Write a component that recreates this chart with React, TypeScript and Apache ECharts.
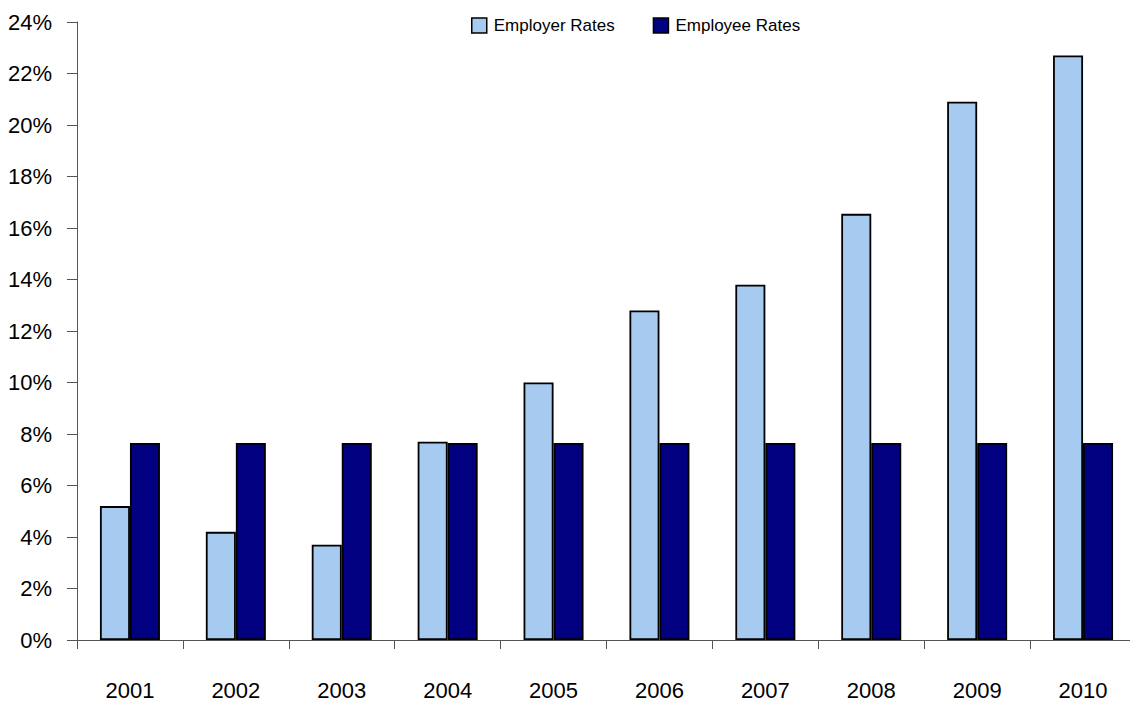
import React, { useEffect, useRef } from "react";
import * as echarts from "echarts";

const years = ["2001", "2002", "2003", "2004", "2005", "2006", "2007", "2008", "2009", "2010"];
const employerRates = [5.2, 4.2, 3.7, 7.7, 10.0, 12.8, 13.8, 16.55, 20.9, 22.7];
const employeeRates = [7.65, 7.65, 7.65, 7.65, 7.65, 7.65, 7.65, 7.65, 7.65, 7.65];
const seriesNames = ["Employer Rates", "Employee Rates"];

const FONT = "'Liberation Sans', Arial, sans-serif";

export default function App() {
  const ref = useRef<HTMLDivElement>(null);
  useEffect(() => {
    if (!ref.current) return;
    const chart = echarts.init(ref.current, null, { renderer: "svg" });
    chart.setOption({
      animation: false,
      backgroundColor: "#ffffff",
      textStyle: { fontFamily: FONT },
      legend: {
        top: 12,
        left: 466,
        itemWidth: 15,
        itemHeight: 15,
        itemGap: 38,
        icon: "rect",
        textStyle: { fontFamily: FONT, fontSize: 17, color: "#000", padding: [0, 0, 0, 2] },
        data: seriesNames.map((n) => ({ name: n, itemStyle: { borderColor: "#000", borderWidth: 1.5 } })),
      },
      grid: { left: 77, top: 22, bottom: 67, width: 1059, containLabel: false, outerBoundsMode: "none" },
      xAxis: {
        type: "category",
        data: years,
        axisLine: { lineStyle: { color: "#555", width: 1 } },
        axisTick: { show: true, length: 9, lineStyle: { color: "#555" } },
        axisLabel: { fontFamily: FONT, fontSize: 22, color: "#000", margin: 39 },
      },
      yAxis: {
        type: "value",
        min: 0,
        max: 24,
        interval: 2,
        splitLine: { show: false },
        axisLine: { show: true, lineStyle: { color: "#555", width: 1 } },
        axisTick: { show: true, inside: false, length: 10, lineStyle: { color: "#555" } },
        axisLabel: { fontFamily: FONT, fontSize: 22, color: "#000", margin: 25, formatter: "{value}%" },
      },
      series: [
        {
          name: seriesNames[0],
          type: "bar",
          data: employerRates,
          barWidth: 30,
          barGap: "0%",
          itemStyle: { color: "#A6CAF0", borderColor: "#000", borderWidth: 1.8 },
        },
        {
          name: seriesNames[1],
          type: "bar",
          data: employeeRates,
          barWidth: 30,
          barGap: "0%",
          itemStyle: { color: "#000080", borderColor: "#000", borderWidth: 1.8 },
        },
      ],
    });
    return () => chart.dispose();
  }, []);
  return <div ref={ref} style={{ width: 1130, height: 707, position: "absolute", left: 0, top: 0 }} />;
}
